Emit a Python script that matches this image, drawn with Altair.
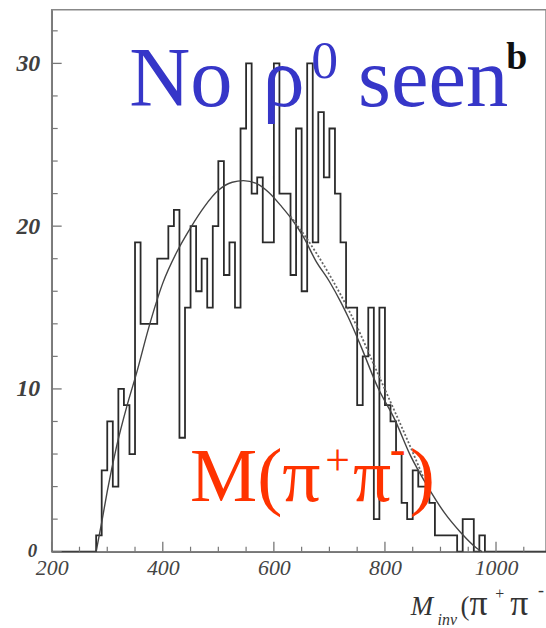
import altair as alt
import pandas as pd

# ---------------- data ----------------
bin_start = 280
bin_width = 10
counts = [1, 5, 8, 4, 10, 9, 6, 19, 14, 14,
          14, 18, 18, 20, 21, 7, 15, 20, 16, 18,
          15, 20, 24, 17, 19, 15, 26, 30, 22, 23,
          19, 19, 30, 22, 22, 17, 26, 16, 30, 19,
          27, 23, 26, 22, 19, 15, 15, 9, 12, 15,
          2, 15, 9, 8, 6, 3, 2, 5, 4, 4,
          3, 1, 1, 1, 1, 0, 2, 2, 0, 1]

fit_x = [280, 290, 300, 317, 335, 353, 375, 400, 425, 450, 475, 500, 525, 545,
         570, 590, 614, 635, 654, 675, 700, 721, 734, 757, 787, 818, 846, 877,
         907, 936, 966, 975]
fit_y = [0, 1.8, 3.7, 6.5, 8.9, 11.0, 13.8, 16.5, 18.4, 19.9, 21.2, 22.2, 22.7, 22.8,
         22.6, 22.1, 21.2, 20.3, 19.3, 17.9, 16.6, 15.3, 14.4, 12.6, 10.1, 8.1, 5.9, 4.0,
         2.4, 1.2, 0.2, 0]

dot_x = [630, 660, 690, 720, 750, 780, 810, 840, 870]
dot_y = [20.6, 19.2, 17.6, 15.8, 13.8, 11.5, 9.2, 6.9, 4.5]

x_major = [200, 400, 600, 800, 1000]
x_minor = [250, 300, 350, 450, 500, 550, 650, 700, 750, 850, 900, 950, 1050]
y_major = [0, 10, 20, 30]
y_labels = [10, 20, 30]
y_minor = [2, 4, 6, 8, 12, 14, 16, 18, 22, 24, 26, 28, 32]

x_min, x_max = 200, 1090
y_min, y_max = 0, 33.3

# ---------------- build tables ----------------
edges = [bin_start + bin_width * i for i in range(len(counts) + 1)]
hist = pd.DataFrame({
    "x": [x_min] + edges + [x_max],
    "y": [0] + counts + [0, 0],
})
fit = pd.DataFrame({"x": fit_x, "y": fit_y})
dotted = pd.DataFrame({"x": dot_x, "y": dot_y})

W, H = 497, 545
SERIF = "'Liberation Serif', 'Times New Roman', 'DejaVu Serif', serif"

xs = alt.Scale(domain=[x_min, x_max], nice=False, zero=False)
ys = alt.Scale(domain=[y_min, y_max], nice=False, zero=False)

xaxis = alt.Axis(values=x_major, format="d", ticks=False, grid=False, title="",
                 labelFont=SERIF, labelFontStyle="italic", labelFontSize=22,
                 labelColor="#444", labelPadding=6, labelFlush=False,
                 domainColor="#777", domainWidth=1.5)
yaxis = alt.Axis(values=y_labels, format="d", ticks=False, grid=False, title="",
                 labelFont=SERIF, labelFontStyle="italic", labelFontSize=24,
                 labelFontWeight="bold",
                 labelColor="#404040", labelPadding=12, labelFlush=False,
                 domainColor="#777", domainWidth=1.5)

X = alt.X("x:Q", scale=xs, axis=xaxis, title="")
Y = alt.Y("y:Q", scale=ys, axis=yaxis, title="")

hist_layer = alt.Chart(hist).mark_line(
    interpolate="step-after", color="#2a2a2a", strokeWidth=1.8, clip=True
).encode(x=X, y=Y)

fit_layer = alt.Chart(fit).mark_line(
    interpolate="monotone", color="#444", strokeWidth=1.4
).encode(x=X, y=Y)

dot_layer = alt.Chart(dotted).mark_line(
    interpolate="monotone", color="#666", strokeWidth=1.8, strokeDash=[2, 2]
).encode(x=X, y=Y)

tick_col = "#777"
xmaj_layer = alt.Chart(pd.DataFrame({"x": x_major})).mark_rule(
    color=tick_col, strokeWidth=1.3).encode(x=X, y=alt.value(H), y2=alt.value(H - 10))
xmin_layer = alt.Chart(pd.DataFrame({"x": x_minor})).mark_rule(
    color=tick_col, strokeWidth=1.2).encode(x=X, y=alt.value(H), y2=alt.value(H - 5))
ymaj_layer = alt.Chart(pd.DataFrame({"y": y_major})).mark_rule(
    color=tick_col, strokeWidth=1.3).encode(y=Y, x=alt.value(0), x2=alt.value(10))
ymin_layer = alt.Chart(pd.DataFrame({"y": y_minor})).mark_rule(
    color=tick_col, strokeWidth=1.2).encode(y=Y, x=alt.value(0), x2=alt.value(6))


def label(txt, px, py, size, color, style="normal", weight="normal"):
    return alt.Chart(pd.DataFrame({"t": [txt]})).mark_text(
        font=SERIF, fontSize=size, color=color, align="left",
        baseline="alphabetic", fontStyle=style, fontWeight=weight
    ).encode(text="t:N", x=alt.value(px), y=alt.value(py))


BLUE = "#3636C8"
RED = "#FF3300"
texts = [
    label("0", -24, 550, 19, "#404040", style="italic", weight="bold"),
    label("No", 78, 97, 85, BLUE),
    label("ρ", 212, 97, 85, BLUE),
    label("0", 261, 69, 54, BLUE),
    label("seen", 308, 97, 85, BLUE),
    label("b", 457, 60, 38, "#111", weight="bold"),
    label("M(π", 139, 494, 76, RED),
    label("+", 275, 468, 44, RED),
    label("π", 303, 494, 76, RED),
    label("-", 340, 458, 48, RED),
    label(")", 360, 494, 76, RED),
    label("M", 361, 609, 27, "#333", style="italic"),
    label("inv", 388, 619, 16, "#333", style="italic"),
    label("(", 411, 609, 27, "#333"),
    label("π", 420, 609, 36, "#333"),
    label("+", 446, 593, 16, "#333"),
    label("π", 461, 609, 36, "#333"),
    label("-", 489, 590, 18, "#333"),
]

chart = alt.layer(
    hist_layer, fit_layer, dot_layer,
    xmaj_layer, xmin_layer, ymaj_layer, ymin_layer,
    *texts
).properties(
    width=W, height=H, autosize="none",
    padding={"left": 52, "top": 8, "right": 0, "bottom": 75},
    background="white",
).configure_view(stroke="#888", strokeWidth=1.5)

chart.save("out.html", embed_options={"renderer": "svg", "actions": False})
